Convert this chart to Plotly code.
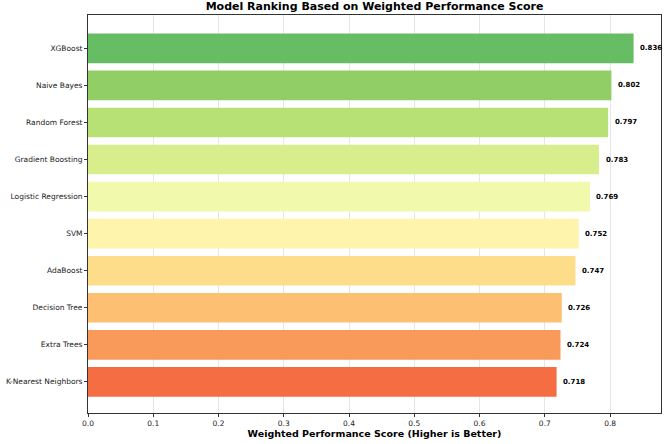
import plotly.graph_objects as go

models = ["K-Nearest Neighbors", "Extra Trees", "Decision Tree", "AdaBoost", "SVM",
          "Logistic Regression", "Gradient Boosting", "Random Forest", "Naive Bayes", "XGBoost"]
scores = [0.718, 0.724, 0.726, 0.747, 0.752, 0.769, 0.783, 0.797, 0.802, 0.836]
colors = ["#f46d43", "#fa9a5a", "#fdbf71", "#fddd8a", "#fef4ac",
          "#f1f9ac", "#d8ee8c", "#b8e175", "#91cf66", "#66bd63"]
xticks = [0.0, 0.1, 0.2, 0.3, 0.4, 0.5, 0.6, 0.7, 0.8]

font = "DejaVu Sans"
fig = go.Figure()
fig.add_trace(go.Bar(
    x=scores, y=models, orientation="h", width=0.8,
    marker=dict(color=colors, line=dict(width=0)),
    hoverinfo="skip",
))
for m, s in zip(models, scores):
    fig.add_annotation(x=s + 0.01, y=m, text=f"<b>{s:.3f}</b>", showarrow=False,
                       xanchor="left", yanchor="middle", xshift=-2,
                       font=dict(family=font, size=7, color="black"))

fig.update_layout(
    width=668, height=444,
    margin=dict(l=88, r=7, t=15, b=31, autoexpand=False),
    paper_bgcolor="white", plot_bgcolor="white",
    title=dict(text="<b>Model Ranking Based on Weighted Performance Score</b>",
               x=0.5, xanchor="center", xref="paper",
               y=1, yref="container", yanchor="top", pad=dict(t=2),
               font=dict(family=font, size=11, color="black")),
    showlegend=False,
)
fig.update_xaxes(
    range=[0, 0.878], tickvals=xticks, ticktext=[f"{v:.1f}" for v in xticks],
    showgrid=True, gridcolor="#e6e6e6", gridwidth=1,
    showline=True, linecolor="#333", linewidth=1, mirror=True,
    ticks="outside", ticklen=3, tickcolor="#333",
    tickfont=dict(family=font, size=7.5, color="#222"),
    title=dict(text="<b>Weighted Performance Score (Higher is Better)</b>", standoff=3,
               font=dict(family=font, size=9.5, color="black")),
    zeroline=False, automargin=False,
)
fig.update_yaxes(
    range=[-0.84, 9.9], showgrid=False,
    showline=True, linecolor="#333", linewidth=1, mirror=True,
    ticks="outside", ticklen=3, tickcolor="#333",
    tickfont=dict(family=font, size=7.5, color="#222"),
    automargin=False,
)
fig.write_html("out.html", config={"displayModeBar": False},
               post_script="document.body.style.margin='0';document.body.style.overflow='hidden';")
